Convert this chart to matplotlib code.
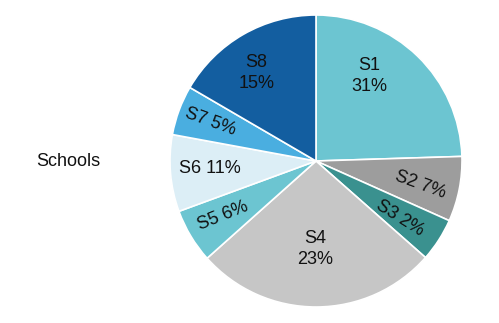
import matplotlib
matplotlib.use("Agg")
import matplotlib.pyplot as plt

plt.rcParams['font.family'] = ['Liberation Sans', 'DejaVu Sans']

# Data
schools = ["S1", "S2", "S3", "S4", "S5", "S6", "S7", "S8"]
slice_values = [24.5, 7.2, 4.8, 26.9, 6.0, 8.5, 5.5, 16.6]
pct_labels = ["31%", "7%", "2%", "23%", "6%", "11%", "5%", "15%"]
colors = ["#6CC5D1", "#9D9D9D", "#3A918F", "#C6C6C6",
          "#6CC5D1", "#DCEEF6", "#4AAEE0", "#135EA0"]

# label layout (position in axis data units, rotation, two-line?)
label_pos = [(0.365, 0.58), (0.712, -0.164), (0.571, -0.393), (-0.007, -0.60),
             (-0.64, -0.377), (-0.726, -0.05), (-0.726, 0.269), (-0.41, 0.60)]
label_rot = [0, -20, -32, 0, 22, 0, -20, 0]
two_line = [True, False, False, True, False, False, False, True]

W, H = 499, 323
fig = plt.figure(figsize=(W / 100, H / 100), dpi=100)
cx, cy, r = 316, 323 - 161, 146
ax = fig.add_axes([(cx - r) / W, (cy - r) / H, 2 * r / W, 2 * r / H])

ax.pie(slice_values, colors=colors, startangle=90, counterclock=False,
       radius=1.0, wedgeprops=dict(edgecolor="white", linewidth=1.2))
ax.set_xlim(-1, 1)
ax.set_ylim(-1, 1)
ax.set_aspect("equal")
ax.axis("off")

for name, pct, (x, y), rot, tl in zip(schools, pct_labels, label_pos, label_rot, two_line):
    txt = f"{name}\n{pct}" if tl else f"{name} {pct}"
    ax.text(x, y, txt, ha="center", va="center", rotation=rot,
            rotation_mode="anchor", fontsize=13, color="#111111",
            linespacing=1.3)

fig.text(36 / W, 1 - 161 / H, "Schools", ha="left", va="center",
         fontsize=13, color="#111111")

fig.savefig("out.png", dpi=100)
